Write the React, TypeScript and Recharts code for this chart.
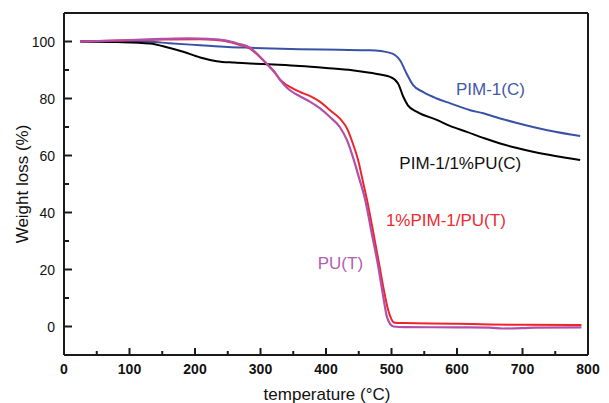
import { LineChart, Line, XAxis, YAxis, ReferenceLine, ReferenceDot } from 'recharts';

// TGA curves: temperature (°C) and remaining weight (%) for each sample
const pimTemp = [25, 80, 131, 160, 208, 250, 284, 360, 420, 467, 498, 513, 523, 533, 548, 569, 590, 620, 640, 666, 690, 716, 750, 788];
const pimWeight = [100, 100, 99.9, 99.4, 98.7, 98.1, 97.8, 97.3, 97.1, 96.9, 96.0, 93.4, 88.8, 84.7, 82.3, 80, 78.3, 75.9, 74.8, 73, 71.5, 70, 68.3, 66.8];

const pimPuTemp = [25, 80, 131, 160, 182, 208, 233, 260, 284, 320, 360, 400, 440, 467, 498, 510, 518, 525, 539, 569, 590, 615, 640, 666, 690, 716, 750, 788];
const pimPuWeight = [100, 99.8, 99.3, 97.8, 96.4, 94.4, 93.1, 92.6, 92.3, 91.9, 91.4, 90.7, 89.9, 89, 87.6, 85.3, 80.6, 77.6, 75.3, 72.5, 70.3, 68.3, 66.2, 64.2, 62.7, 61.3, 59.8, 58.4];

const puPimTemp = [25, 100, 150, 208, 230, 246, 265, 284, 297, 310, 322, 330, 337, 345, 360, 376, 391, 406, 421, 432, 441, 449, 457, 463, 473, 482, 489, 495, 500, 505, 520, 600, 650, 700, 790];
const puPimWeight = [100, 100.4, 100.7, 100.8, 100.6, 100.2, 99, 97.5, 95, 92, 89.2, 86.6, 85.2, 84.1, 82.3, 80.8, 78.8, 75.9, 73, 69.5, 64.2, 58.4, 50.2, 44, 32, 20.8, 12, 5.7, 2.5, 1.3, 1.2, 1.0, 0.7, 0.6, 0.5];

const puTemp = [25, 100, 150, 190, 220, 246, 265, 284, 297, 310, 322, 330, 337, 345, 360, 376, 391, 406, 421, 432, 441, 450, 460, 470, 480, 487, 493, 498, 503, 520, 600, 650, 670, 700, 720, 790];
const puWeight = [100, 100.5, 100.9, 101.1, 100.9, 100.4, 99.3, 97.8, 95.2, 92.1, 89, 86.5, 84.6, 82.9, 80.8, 78.8, 76.5, 73.5, 70, 65.4, 59.5, 52.5, 44.3, 32.5, 20.8, 11, 3.4, 0.8, 0, -0.2, -0.3, -0.4, -0.7, -0.6, -0.4, -0.3];

const xTicks = [0, 50, 100, 150, 200, 250, 300, 350, 400, 450, 500, 550, 600, 650, 700, 750, 800];
const yTicks = [0, 10, 20, 30, 40, 50, 60, 70, 80, 90, 100];

const toPoints = (temps: number[], weights: number[]) =>
  temps.map((t, i) => ({ t, w: weights[i] }));

const FONT = '"Liberation Sans", Arial, sans-serif';
const AXIS = '#1a1a1a';

const XTick = ({ x, y, payload }: any) => {
  const major = payload.value % 100 === 0;
  return (
    <g>
      <line x1={x} x2={x} y1={y} y2={y - (major ? 7 : 4)} stroke={AXIS} strokeWidth={2} />
      {major && (
        <text x={x} y={y + 19} textAnchor="middle" fontSize={14} fontWeight="bold" fill="#111" fontFamily={FONT}>
          {payload.value}
        </text>
      )}
    </g>
  );
};

const YTick = ({ x, y, payload }: any) => {
  const major = payload.value % 20 === 0;
  return (
    <g>
      <line x1={x} x2={x + (major ? 8 : 5)} y1={y} y2={y} stroke={AXIS} strokeWidth={2} />
      {major && (
        <text x={x - 9} y={y + 5} textAnchor="end" fontSize={14} fill="#111" fontFamily={FONT}>
          {payload.value}
        </text>
      )}
    </g>
  );
};

const curveLabel = (text: string, color: string) => ({
  value: text,
  fill: color,
  fontSize: 17,
  fontFamily: FONT,
});

export default function App() {
  return (
    <div style={{ position: 'fixed', left: 0, top: 0, width: 609, height: 403, background: '#fff' }}>
      <LineChart width={609} height={403} margin={{ top: 13, right: 21, bottom: 0, left: 0 }}>
        <XAxis
          type="number"
          dataKey="t"
          domain={[0, 800]}
          ticks={xTicks}
          interval={0}
          tickSize={0}
          tickMargin={0}
          tickLine={false}
          tick={(p: any) => <XTick {...p} />}
          axisLine={{ stroke: AXIS, strokeWidth: 2 }}
          height={48}
          allowDataOverflow
          label={{
            content: () => (
              <text x={327} y={400} textAnchor="middle" fontSize={17} fill="#111" fontFamily={FONT}>
                temperature (°C)
              </text>
            ),
          }}
        />
        <YAxis
          type="number"
          domain={[-10, 110]}
          ticks={yTicks}
          interval={0}
          tickSize={0}
          tickMargin={0}
          tickLine={false}
          tick={(p: any) => <YTick {...p} />}
          axisLine={{ stroke: AXIS, strokeWidth: 2 }}
          width={64}
          allowDataOverflow
          label={{
            content: () => (
              <text
                x={22}
                y={184}
                transform="rotate(-90, 22, 184)"
                textAnchor="middle"
                dominantBaseline="central"
                fontSize={17}
                fill="#111"
                fontFamily={FONT}
              >
                Weight loss (%)
              </text>
            ),
          }}
        />
        <ReferenceLine y={110} stroke={AXIS} strokeWidth={2} />
        <ReferenceLine x={800} stroke={AXIS} strokeWidth={2} />

        <Line data={toPoints(pimTemp, pimWeight)} dataKey="w" type="monotone" stroke="#3852a5" strokeWidth={2} dot={false} isAnimationActive={false} />
        <Line data={toPoints(pimPuTemp, pimPuWeight)} dataKey="w" type="monotone" stroke="#000" strokeWidth={2} dot={false} isAnimationActive={false} />
        <Line data={toPoints(puPimTemp, puPimWeight)} dataKey="w" type="monotone" stroke="#f0232a" strokeWidth={2} dot={false} isAnimationActive={false} />
        <Line data={toPoints(puTemp, puWeight)} dataKey="w" type="monotone" stroke="#b24fa8" strokeWidth={2.2} dot={false} isAnimationActive={false} />

        <ReferenceDot x={651} y={83.3} r={0} fill="none" stroke="none" label={curveLabel('PIM-1(C)', '#4358aa')} />
        <ReferenceDot x={605} y={57.3} r={0} fill="none" stroke="none" label={curveLabel('PIM-1/1%PU(C)', '#111')} />
        <ReferenceDot x={583} y={37.3} r={0} fill="none" stroke="none" label={curveLabel('1%PIM-1/PU(T)', '#ec2a30')} />
        <ReferenceDot x={422} y={22.2} r={0} fill="none" stroke="none" label={curveLabel('PU(T)', '#b35cb0')} />
      </LineChart>
    </div>
  );
}
